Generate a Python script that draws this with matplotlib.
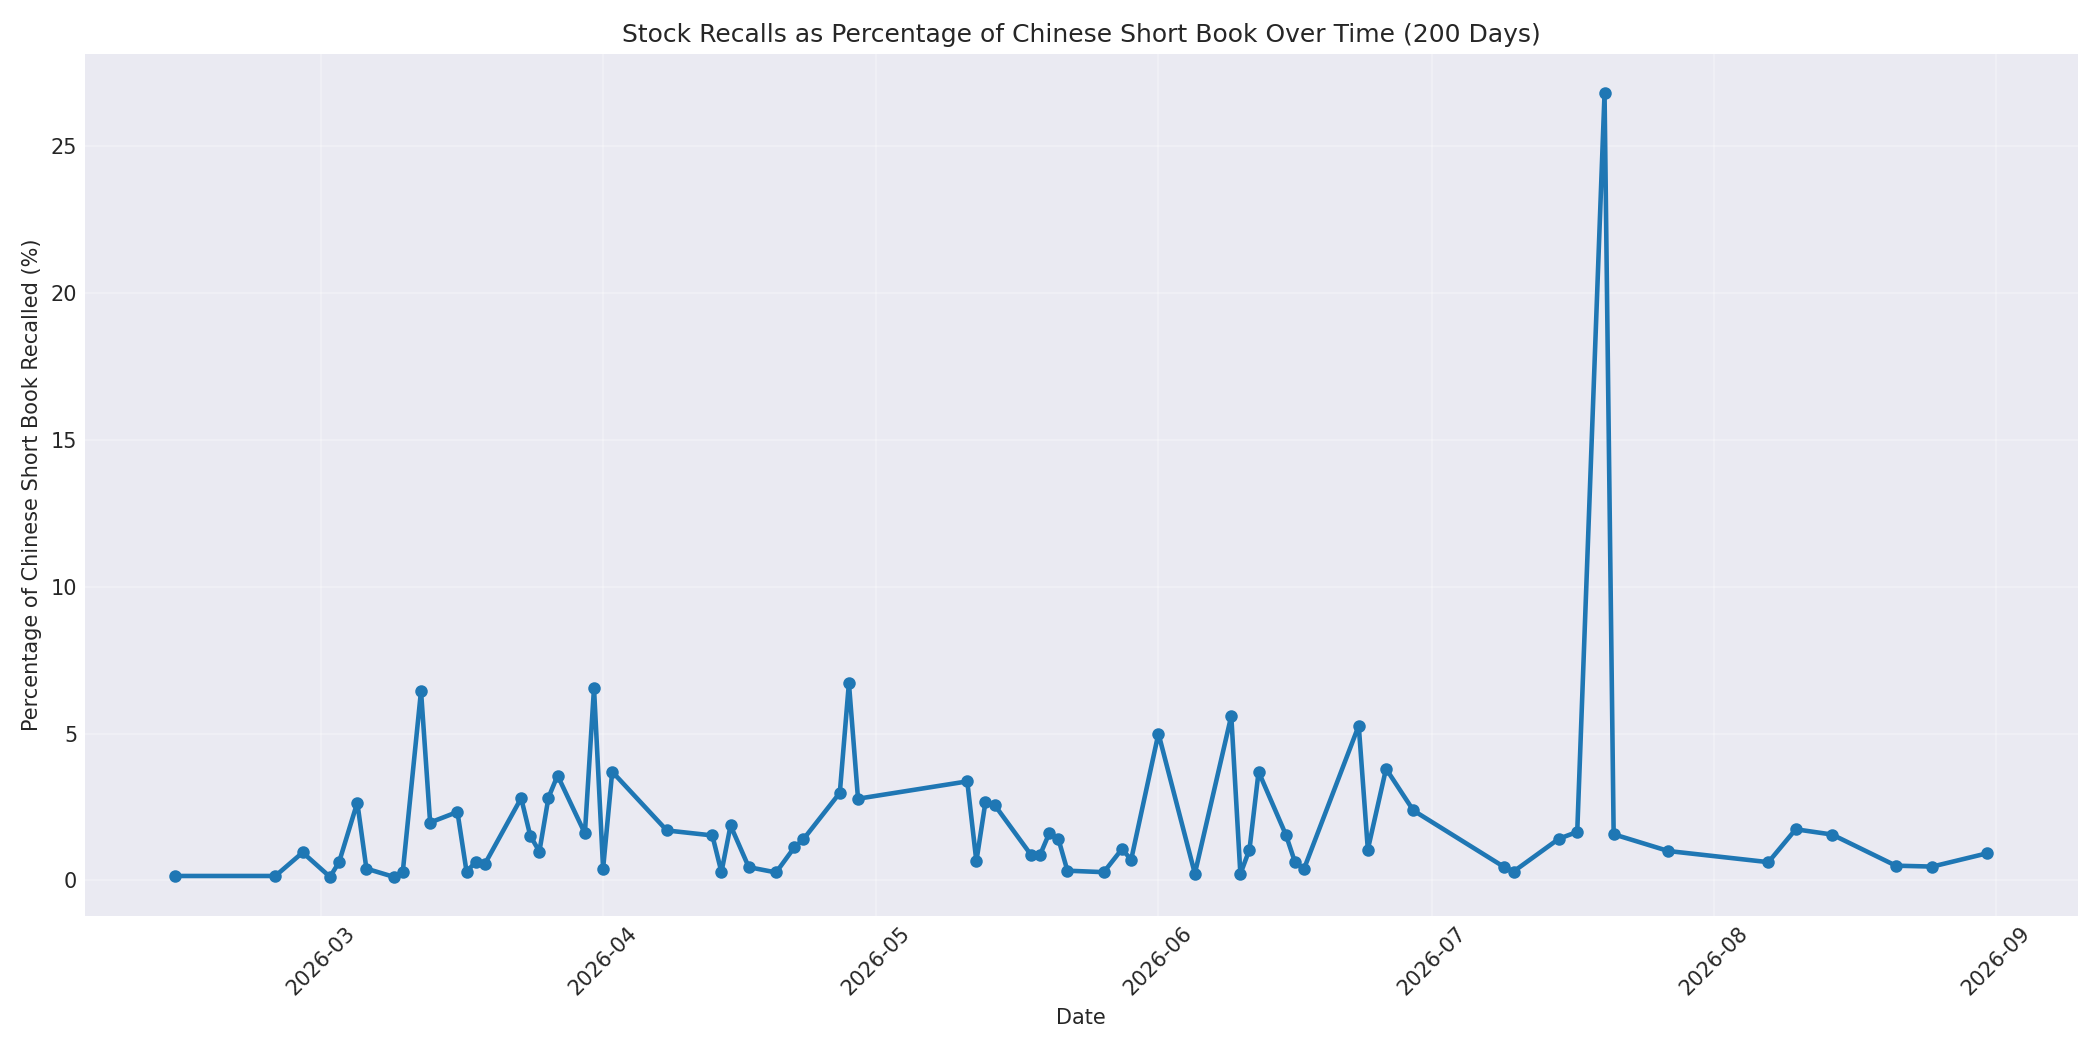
import pandas as pd
import matplotlib
matplotlib.use('Agg')
import matplotlib.pyplot as plt

dates = [
    '2026-02-13', '2026-02-24', '2026-02-27', '2026-03-02', '2026-03-03',
    '2026-03-05', '2026-03-06', '2026-03-09', '2026-03-10', '2026-03-12',
    '2026-03-13', '2026-03-16', '2026-03-17', '2026-03-18', '2026-03-19',
    '2026-03-23', '2026-03-24', '2026-03-25', '2026-03-26', '2026-03-27',
    '2026-03-30', '2026-03-31', '2026-04-01', '2026-04-02', '2026-04-08',
    '2026-04-13', '2026-04-14', '2026-04-15', '2026-04-17', '2026-04-20',
    '2026-04-22', '2026-04-23', '2026-04-27', '2026-04-28', '2026-04-29',
    '2026-05-11', '2026-05-12', '2026-05-13', '2026-05-14', '2026-05-18',
    '2026-05-19', '2026-05-20', '2026-05-21', '2026-05-22', '2026-05-26',
    '2026-05-28', '2026-05-29', '2026-06-01', '2026-06-05', '2026-06-09',
    '2026-06-10', '2026-06-11', '2026-06-12', '2026-06-15', '2026-06-16',
    '2026-06-17', '2026-06-23', '2026-06-24', '2026-06-26', '2026-06-29',
    '2026-07-09', '2026-07-10', '2026-07-15', '2026-07-17', '2026-07-20',
    '2026-07-21', '2026-07-27', '2026-08-07', '2026-08-10', '2026-08-14',
    '2026-08-21', '2026-08-25', '2026-08-31',
]
recall_pct = [
    0.15, 0.15, 0.95, 0.12, 0.62,
    2.65, 0.40, 0.12, 0.30, 6.45,
    1.97, 2.33, 0.30, 0.62, 0.55,
    2.80, 1.52, 0.98, 2.82, 3.57,
    1.60, 6.55, 0.40, 3.70, 1.70,
    1.53, 0.28, 1.87, 0.45, 0.27,
    1.12, 1.40, 2.98, 6.72, 2.78,
    3.37, 0.65, 2.67, 2.57, 0.87,
    0.87, 1.60, 1.42, 0.33, 0.28,
    1.07, 0.70, 5.00, 0.23, 5.60,
    0.22, 1.05, 3.70, 1.55, 0.62,
    0.40, 5.27, 1.05, 3.80, 2.38,
    0.45, 0.30, 1.42, 1.65, 26.80,
    1.57, 1.00, 0.62, 1.74, 1.56,
    0.50, 0.47, 0.92,
]

df = pd.DataFrame({'date': pd.to_datetime(dates), 'pct': recall_pct})

plt.style.use('seaborn-v0_8-darkgrid')
plt.rcParams['font.family'] = ['DejaVu Sans']
fig, ax = plt.subplots(figsize=(14, 7), dpi=150)

ax.plot(df['date'], df['pct'], marker='o', markersize=5, linewidth=2.2, color='#1f77b4')

ax.set_title('Stock Recalls as Percentage of Chinese Short Book Over Time (200 Days)', fontsize=12)
ax.set_xlabel('Date', fontsize=10)
ax.set_ylabel('Percentage of Chinese Short Book Recalled (%)', fontsize=10)
ax.tick_params(axis='both', labelsize=10)
ax.grid(True, alpha=0.3)
plt.xticks(rotation=45)

plt.tight_layout()
plt.savefig('out.png', dpi=150)
